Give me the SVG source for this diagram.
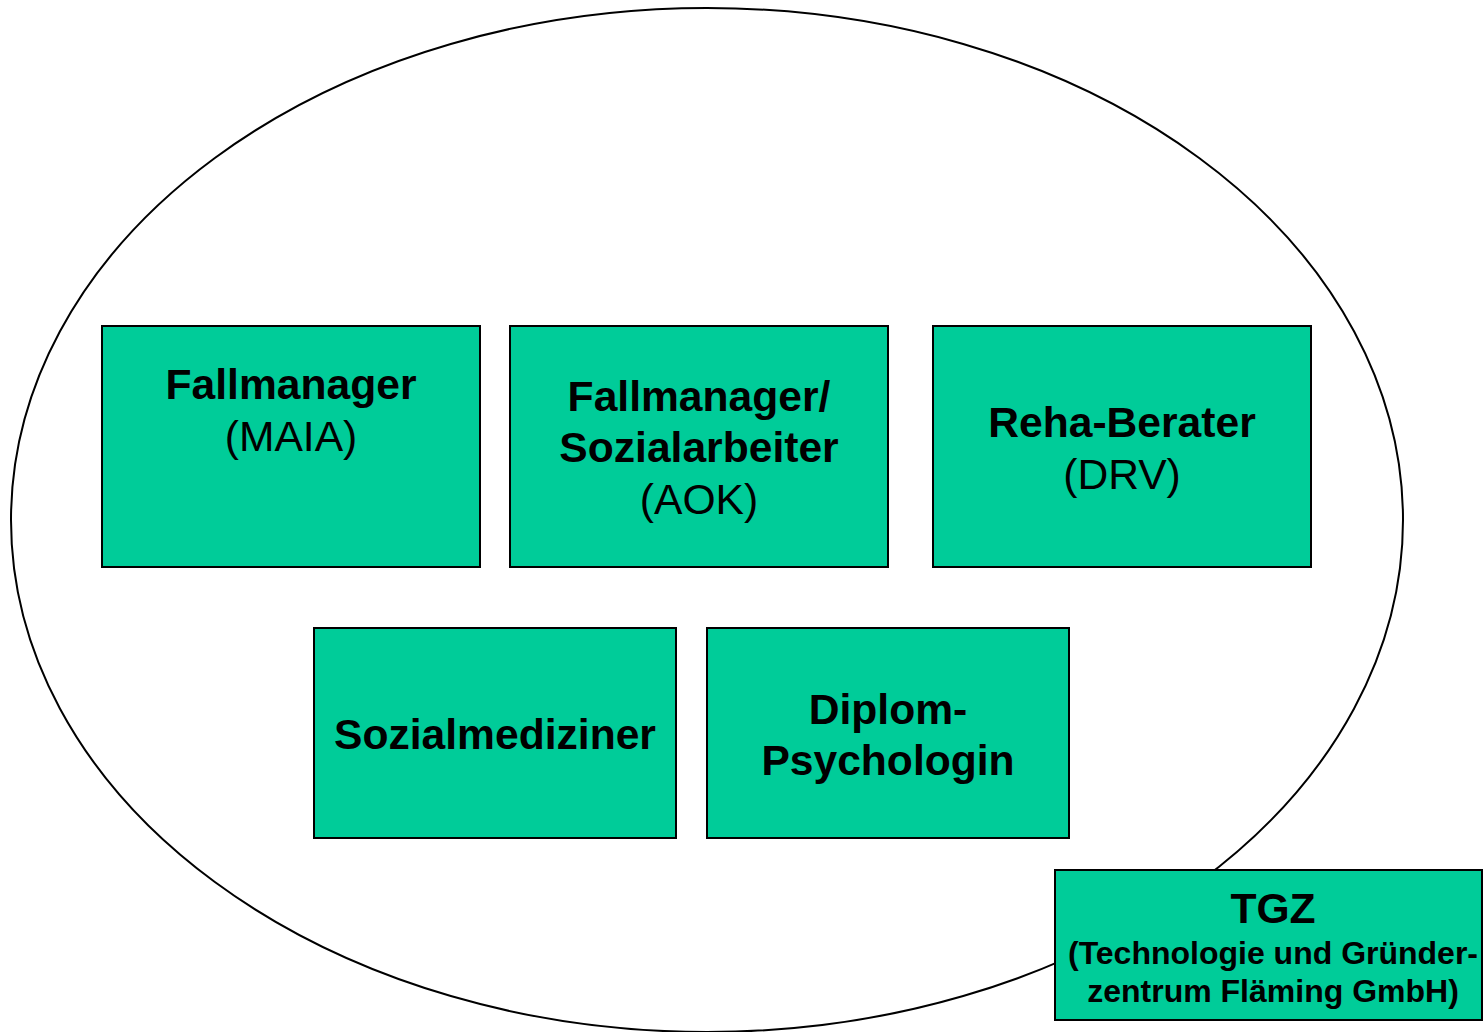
<svg xmlns="http://www.w3.org/2000/svg" width="1483" height="1032" viewBox="0 0 1483 1032">
<style>
.box{fill:#00CC99;stroke:#000;stroke-width:2}
.t{font-family:"Liberation Sans",Arial,sans-serif;font-size:42.6px;text-anchor:middle;fill:#000}
.b{font-weight:bold}
.s{font-size:32px;font-weight:bold}
</style>
<rect width="1483" height="1032" fill="#fff"/>
<g id="oval"><ellipse cx="707" cy="520" rx="696" ry="512" fill="#fff" stroke="#000" stroke-width="2"/></g>
<g id="connectors"></g>
<g id="n1"><rect class="box" x="102" y="326" width="378" height="241"/>
<text class="t b" x="291" y="399">Fallmanager</text><text class="t" x="291" y="451">(MAIA)</text></g>
<g id="n2"><rect class="box" x="510" y="326" width="378" height="241"/>
<text class="t b" x="699" y="411">Fallmanager/</text><text class="t b" x="699" y="462">Sozialarbeiter</text><text class="t" x="699" y="514">(AOK)</text></g>
<g id="n3"><rect class="box" x="933" y="326" width="378" height="241"/>
<text class="t b" x="1122" y="437">Reha-Berater</text><text class="t" x="1122" y="489">(DRV)</text></g>
<g id="n4"><rect class="box" x="314" y="628" width="362" height="210"/>
<text class="t b" x="495" y="749">Sozialmediziner</text></g>
<g id="n5"><rect class="box" x="707" y="628" width="362" height="210"/>
<text class="t b" x="888" y="724">Diplom-</text><text class="t b" x="888" y="775">Psychologin</text></g>
<g id="n6"><rect class="box" x="1055" y="870" width="427" height="150"/>
<text class="t b" x="1273" y="923">TGZ</text><text class="t s" x="1273" y="964">(Technologie und Gründer-</text><text class="t s" x="1273" y="1002">zentrum Fläming GmbH)</text></g>
</svg>
